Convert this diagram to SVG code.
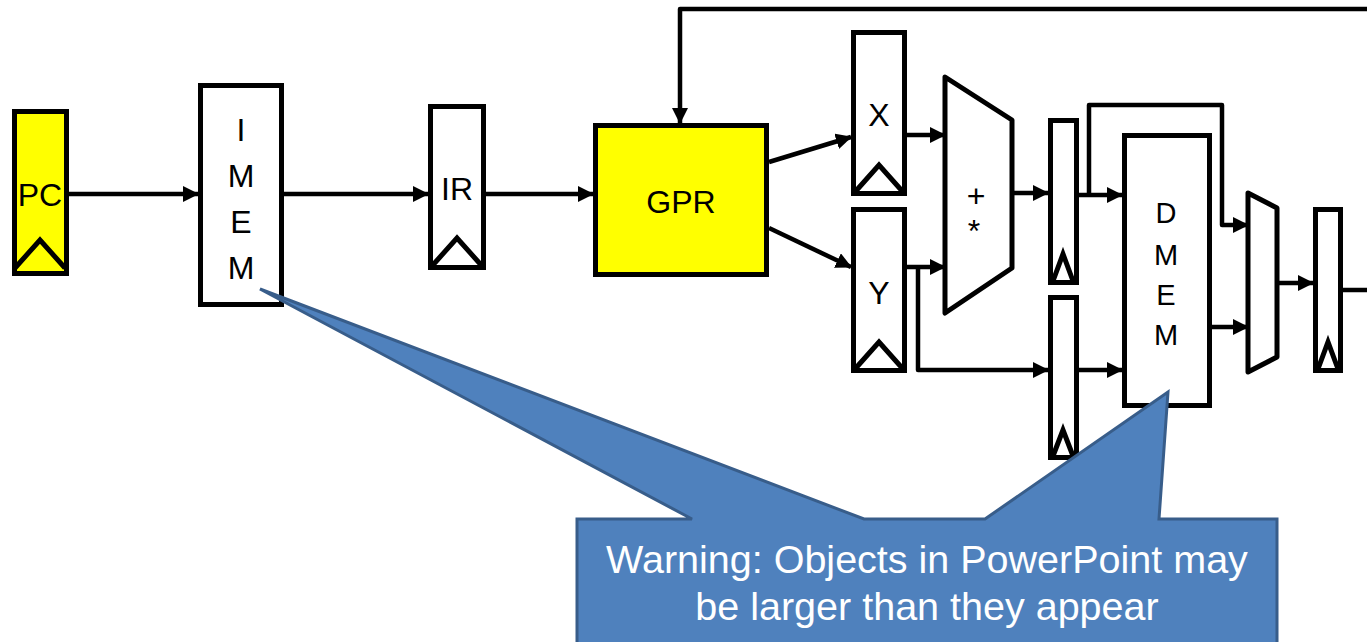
<svg xmlns="http://www.w3.org/2000/svg" width="1367" height="642" viewBox="0 0 1367 642">
<style>
.box{stroke:#000;stroke-width:5;fill:#fff}
.yel{fill:#ffff00}
.clk{fill:none;stroke:#000;stroke-width:5;stroke-linejoin:miter}
.lbl{font-family:"Liberation Sans",Arial,sans-serif;font-size:32px;fill:#000;text-anchor:middle}
.dm{font-size:29px}
.wire{fill:none;stroke:#000;stroke-width:4.5;stroke-linejoin:round}
.arr{marker-end:url(#ah)}
.call{fill:#4F81BD;stroke:#385D8A;stroke-width:3;stroke-linejoin:miter}
.ctext{font-family:"Liberation Sans",Arial,sans-serif;font-size:39.5px;fill:#fff;text-anchor:middle}
</style>
<defs>
<marker id="ah" markerUnits="userSpaceOnUse" markerWidth="16" markerHeight="16" refX="15" refY="8" orient="auto">
<path d="M0,0 L16,8 L0,16 Z" fill="#000"/>
</marker>
</defs>
<g id="connectors">
<path class="wire arr" d="M69,194 H198"/>
<path class="wire arr" d="M284,194 H428"/>
<path class="wire arr" d="M486,194 H593"/>
<path class="wire arr" d="M1367,9 H680 V123"/>
<path class="wire arr" d="M769,162 L851,137"/>
<path class="wire arr" d="M769,228 L851,267"/>
<path class="wire arr" d="M907,135 H945"/>
<path class="wire arr" d="M907,267 H945"/>
<path class="wire arr" d="M918,267 V370 H1048"/>
<path class="wire arr" d="M1012,193 H1048"/>
<path class="wire arr" d="M1079,195 H1122"/>
<path class="wire arr" d="M1089,195 V105 H1222 V225 H1248"/>
<path class="wire arr" d="M1079,370 H1122"/>
<path class="wire arr" d="M1212,327 H1248"/>
<path class="wire arr" d="M1277,283 H1313"/>
<path class="wire" d="M1343,290 H1367"/>
</g>
<g id="PC">
<rect class="box yel" x="14.5" y="111.5" width="52" height="162"/>
<polyline class="clk" points="15,268 40,240 65,268"/>
<text class="lbl" x="40" y="206">PC</text>
</g>
<g id="IMEM">
<rect class="box" x="200.5" y="85.5" width="81" height="219"/>
<text class="lbl" x="241" y="141">I</text>
<text class="lbl" x="241" y="187">M</text>
<text class="lbl" x="241" y="233">E</text>
<text class="lbl" x="241" y="279">M</text>
</g>
<g id="IR">
<rect class="box" x="430.5" y="106.5" width="53" height="161"/>
<polyline class="clk" points="432,266 457,238 482,266"/>
<text class="lbl" x="457" y="200">IR</text>
</g>
<g id="GPR">
<rect class="box yel" x="595.5" y="125.5" width="171" height="149"/>
<text class="lbl" x="681" y="213">GPR</text>
</g>
<g id="X">
<rect class="box" x="853.5" y="32.5" width="51" height="161"/>
<polyline class="clk" points="855,192 879,165 903,192"/>
<text class="lbl" x="879" y="126">X</text>
</g>
<g id="Y">
<rect class="box" x="853.5" y="209.5" width="51" height="161"/>
<polyline class="clk" points="855,369 879,342 903,369"/>
<text class="lbl" x="879" y="304">Y</text>
</g>
<g id="ALU">
<polygon class="box" points="945,77 1012,120 1012,268 945,313" stroke-linejoin="round"/>
<text class="lbl" x="976" y="207">+</text>
<text class="lbl" x="974" y="242">*</text>
</g>
<g id="REG1">
<rect class="box" x="1050.5" y="120.5" width="26" height="162"/>
<polyline class="clk" points="1053,281 1063,254 1073,281"/>
</g>
<g id="REG2">
<rect class="box" x="1050.5" y="297.5" width="26" height="160"/>
<polyline class="clk" points="1053,456 1063,430 1073,456"/>
</g>
<g id="DMEM">
<rect class="box" x="1124.5" y="135.5" width="85" height="270"/>
<text class="lbl dm" x="1166" y="223">D</text>
<text class="lbl dm" x="1166" y="265">M</text>
<text class="lbl dm" x="1166" y="305">E</text>
<text class="lbl dm" x="1166" y="345">M</text>
</g>
<g id="MUX">
<polygon class="box" points="1248,193 1277,208 1277,357 1248,372" stroke-linejoin="round"/>
</g>
<g id="REG3">
<rect class="box" x="1315.5" y="209.5" width="25" height="161"/>
<polyline class="clk" points="1318,369 1328,342 1338,369"/>
</g>
<g id="callout">
<path class="call" d="M577,519 H692 L260,289 L864,519 H985 L1168,392 L1159,519 H1277 V650 H577 Z"/>
<text class="ctext" x="927" y="573">Warning: Objects in PowerPoint may</text>
<text class="ctext" x="927" y="620">be larger than they appear</text>
</g>
</svg>
